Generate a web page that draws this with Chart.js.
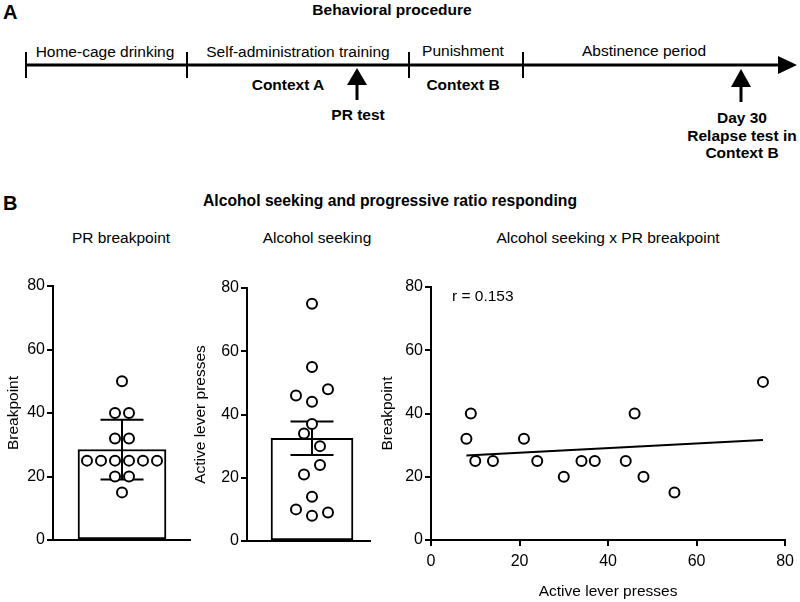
<!DOCTYPE html>
<html>
<head>
<meta charset="utf-8">
<script src="https://cdn.jsdelivr.net/npm/chart.js@4.4.1/dist/chart.umd.min.js"></script>
<style>
    html, body { margin: 0; padding: 0; background: #fff; }
    #page { position: relative; width: 800px; height: 602px; overflow: hidden; background: #fff; }
    #page svg, #page canvas { position: absolute; left: 0; top: 0; }
</style>
</head>
<body>
<div id="page">
<svg width="800" height="602" font-family='"Liberation Sans", Arial, sans-serif' fill="#000">
    <text x="3" y="19" font-size="20" font-weight="bold">A</text>
    <text x="392" y="15" font-size="15.5" font-weight="bold" text-anchor="middle">Behavioral procedure</text>

    <line x1="26" y1="65" x2="782" y2="65" stroke="#000" stroke-width="3"/>
    <polygon points="778,56 797,65 778,74"/>
    <g stroke="#000" stroke-width="2">
        <line x1="26" y1="52" x2="26" y2="78"/>
        <line x1="187" y1="52" x2="187" y2="78"/>
        <line x1="409" y1="52" x2="409" y2="78"/>
        <line x1="523" y1="52" x2="523" y2="78"/>
    </g>
    <polygon points="357,68 347,85 367,85"/>
    <line x1="357" y1="84" x2="357" y2="100" stroke="#000" stroke-width="3"/>
    <polygon points="741,69 731,87 751,87"/>
    <line x1="741" y1="86" x2="741" y2="102" stroke="#000" stroke-width="3"/>

    <g font-size="15.5" text-anchor="middle">
        <text x="105" y="57">Home-cage drinking</text>
        <text x="298" y="57">Self-administration training</text>
        <text x="463" y="56">Punishment</text>
        <text x="644" y="56">Abstinence period</text>
    </g>
    <g font-size="15.5" font-weight="bold" text-anchor="middle">
        <text x="288" y="90">Context A</text>
        <text x="463" y="90">Context B</text>
        <text x="358" y="120">PR test</text>
        <text x="742" y="123">Day 30</text>
        <text x="742" y="141">Relapse test in</text>
        <text x="742" y="158">Context B</text>
    </g>

    <text x="3" y="210" font-size="20" font-weight="bold">B</text>
    <text x="390" y="206" font-size="15.7" font-weight="bold" text-anchor="middle">Alcohol seeking and progressive ratio responding</text>
    <g font-size="15.5" text-anchor="middle">
        <text x="121" y="243">PR breakpoint</text>
        <text x="317" y="243">Alcohol seeking</text>
        <text x="608" y="243">Alcohol seeking x PR breakpoint</text>
    </g>
</svg>
<canvas id="chart-bp" width="800" height="602"></canvas>
<canvas id="chart-seek" width="800" height="602"></canvas>
<canvas id="chart-corr" width="800" height="602"></canvas>
</div>

<script>
// one entry per rat, same order in both arrays
const seeking = [75, 55, 46, 44, 48, 37, 34, 30, 21, 24, 14, 10, 8, 9];
const breakpoint = [50, 15, 40, 25, 20, 25, 25, 20, 32, 25, 25, 25, 32, 40];

const yRange = [0, 80];
const yStep = 20;
const xRange = [0, 80];
const xStep = 20;

Chart.defaults.font.family = '"Liberation Sans", Arial, sans-serif';
Chart.defaults.font.size = 16;
Chart.defaults.color = '#000';
Chart.defaults.animation = false;
Chart.defaults.plugins.legend.display = false;
Chart.defaults.plugins.tooltip.enabled = false;

const mean = a => a.reduce((s, v) => s + v, 0) / a.length;
const sd = a => {
    const m = mean(a);
    return Math.sqrt(a.reduce((s, v) => s + (v - m) * (v - m), 0) / (a.length - 1));
};
const sem = a => sd(a) / Math.sqrt(a.length);

// spread points that sit close together side by side (column scatter)
function swarm(values, binWidth, spacing) {
    const idx = values.map((v, i) => i).sort((a, b) => values[a] - values[b] || a - b);
    const offsets = values.map(() => 0);
    let group = [];
    const flush = () => {
        group.sort((a, b) => a - b);
        group.forEach((i, k) => { offsets[i] = (k - (group.length - 1) / 2) * spacing; });
        group = [];
    };
    idx.forEach(i => {
        if (group.length && values[i] - values[group[0]] > binWidth) flush();
        group.push(i);
    });
    flush();
    return values.map((v, i) => ({ x: offsets[i], y: v }));
}

function yAxis(title, width) {
    return {
        min: yRange[0],
        max: yRange[1],
        ticks: { stepSize: yStep, padding: 2, font: { size: 16 } },
        grid: { drawOnChartArea: false, color: '#000', lineWidth: 2, tickLength: 6 },
        border: { color: '#000', width: 2 },
        title: { display: true, text: title, font: { size: 15.5 } },
        afterFit: s => { s.width = width; }
    };
}

const pointStyle = {
    pointRadius: 5,
    pointBorderWidth: 2,
    pointBackgroundColor: '#fff',
    pointBorderColor: '#000',
    clip: false
};

// x axis of the column charts is in pixels, bar sits at 0
function columnChart(id, values, err, box) {
    const m = mean(values);
    const cap = 21.5;
    return new Chart(document.getElementById(id), {
        type: 'bar',
        data: {
            datasets: [
                {
                    type: 'bar',
                    data: [{ x: 0, y: m }],
                    backgroundColor: '#fff',
                    borderColor: '#000',
                    borderWidth: 2,
                    borderSkipped: false,
                    barThickness: box.bar,
                    order: 3
                },
                {
                    type: 'line',
                    data: [{ x: 0, y: m - err }, { x: 0, y: m + err }],
                    borderColor: '#000', borderWidth: 2, pointRadius: 0, order: 2
                },
                {
                    type: 'line',
                    data: [{ x: -cap, y: m + err }, { x: cap, y: m + err }],
                    borderColor: '#000', borderWidth: 2, pointRadius: 0, order: 2
                },
                {
                    type: 'line',
                    data: [{ x: -cap, y: m - err }, { x: cap, y: m - err }],
                    borderColor: '#000', borderWidth: 2, pointRadius: 0, order: 2
                },
                Object.assign({
                    type: 'scatter',
                    data: swarm(values, 4, box.spacing),
                    showLine: false,
                    order: 1
                }, pointStyle)
            ]
        },
        options: {
            responsive: false,
            layout: { padding: { left: box.padLeft, top: box.top, right: 800 - box.right, bottom: 602 - box.bottom } },
            scales: {
                x: {
                    type: 'linear',
                    min: -(box.center - box.left),
                    max: box.right - box.center,
                    offset: false,
                    ticks: { display: false },
                    grid: { display: false },
                    border: { color: '#000', width: 2 },
                    afterFit: s => { s.height = 0; }
                },
                y: yAxis(box.title, box.left - box.padLeft)
            }
        }
    });
}

const chart_bp = columnChart('chart-bp', breakpoint, sd(breakpoint), {
    title: 'Breakpoint', padLeft: 0, left: 53, right: 190, top: 286, bottom: 540,
    center: 122, bar: 88, spacing: 14
});

const chart_seek = columnChart('chart-seek', seeking, sem(seeking), {
    title: 'Active lever presses', padLeft: 187, left: 247, right: 370, top: 288, bottom: 541,
    center: 312, bar: 82, spacing: 16
});

// linear regression of breakpoint on active lever presses
const mx = mean(seeking), my = mean(breakpoint);
let sxy = 0, sxx = 0, syy = 0;
seeking.forEach((x, i) => {
    sxy += (x - mx) * (breakpoint[i] - my);
    sxx += (x - mx) * (x - mx);
    syy += (breakpoint[i] - my) * (breakpoint[i] - my);
});
const slope = sxy / sxx;
const r = sxy / Math.sqrt(sxx * syy);
const xMin = Math.min(...seeking), xMax = Math.max(...seeking);

const rLabel = {
    id: 'rLabel',
    afterDraw(chart) {
        const ctx = chart.ctx, a = chart.chartArea;
        ctx.save();
        ctx.font = '15.5px "Liberation Sans", Arial, sans-serif';
        ctx.fillStyle = '#000';
        ctx.textBaseline = 'alphabetic';
        ctx.fillText('r = ' + r.toFixed(3), a.left + 21, a.top + 14);
        ctx.restore();
    }
};

const chart_corr = new Chart(document.getElementById('chart-corr'), {
    type: 'scatter',
    data: {
        datasets: [
            Object.assign({
                data: seeking.map((x, i) => ({ x: x, y: breakpoint[i] })),
                order: 1
            }, pointStyle),
            {
                type: 'line',
                data: [
                    { x: xMin, y: my + slope * (xMin - mx) },
                    { x: xMax, y: my + slope * (xMax - mx) }
                ],
                borderColor: '#000',
                borderWidth: 2,
                pointRadius: 0,
                order: 2
            }
        ]
    },
    options: {
        responsive: false,
        layout: { padding: { left: 374, top: 287, right: 8, bottom: 1 } },
        scales: {
            x: {
                type: 'linear',
                min: xRange[0],
                max: xRange[1],
                ticks: { stepSize: xStep, padding: 6, font: { size: 16 } },
                grid: { drawOnChartArea: false, color: '#000', lineWidth: 2, tickLength: 6 },
                border: { color: '#000', width: 2 },
                title: { display: true, text: 'Active lever presses', font: { size: 15.5 }, padding: { top: 0, bottom: 0 } },
                afterFit: s => { s.height = 61; }
            },
            y: yAxis('Breakpoint', 57)
        }
    },
    plugins: [rLabel]
});
</script>
</body>
</html>
